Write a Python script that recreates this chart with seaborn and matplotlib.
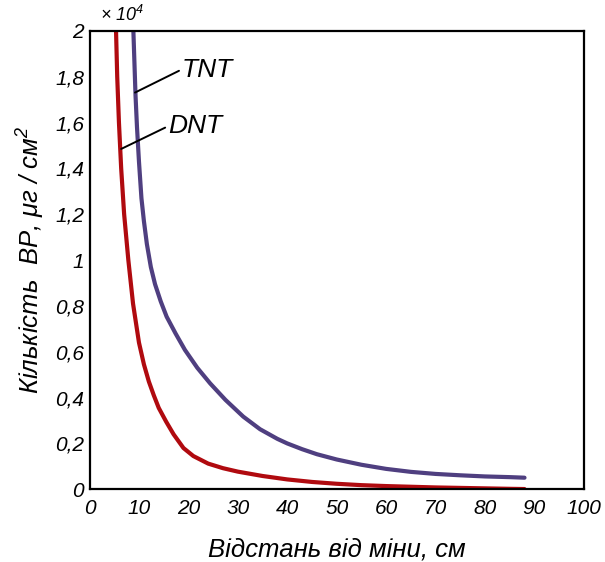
import pandas as pd
import matplotlib.pyplot as plt
import seaborn as sns
from matplotlib.ticker import FuncFormatter

# values, y in units of 10^4 ug/cm^2
tnt_x = [8.87, 9.1, 9.3, 9.6, 10.0, 10.5, 11.0, 11.6, 12.4, 13.25, 14.4, 15.6, 17.4, 19.3,
         21.8, 24.4, 27.5, 31.1, 34.5, 38.0, 40.0, 43.0, 46.0, 50.0, 55.0, 60.0, 65.0, 70.0,
         75.0, 80.0, 85.0, 88.0]
tnt_y = [2.00, 1.85, 1.72, 1.58, 1.43, 1.27, 1.17, 1.07, 0.97, 0.895, 0.82, 0.753, 0.68, 0.608,
         0.53, 0.462, 0.39, 0.317, 0.262, 0.220, 0.200, 0.175, 0.153, 0.130, 0.107, 0.089, 0.076, 0.067,
         0.061, 0.056, 0.053, 0.0505]

dnt_x = [5.36, 5.6, 5.95, 6.4, 7.0, 7.85, 8.8, 10.0, 11.0, 12.0, 13.0, 14.0, 15.5, 17.0,
         19.0, 21.0, 24.0, 27.0, 30.0, 35.0, 40.0, 45.0, 50.0, 55.0, 60.0, 65.0, 70.0, 75.0,
         80.0, 85.0, 88.0]
dnt_y = [2.00, 1.80, 1.60, 1.40, 1.20, 1.00, 0.81, 0.64, 0.545, 0.47, 0.41, 0.355, 0.295, 0.24,
         0.18, 0.145, 0.112, 0.092, 0.077, 0.058, 0.043, 0.032, 0.024, 0.018, 0.014, 0.011, 0.008, 0.006,
         0.004, 0.002, 0.001]

x_ticks = list(range(0, 101, 10))
y_ticks = [0, 0.2, 0.4, 0.6, 0.8, 1.0, 1.2, 1.4, 1.6, 1.8, 2.0]

sns.set_style("white")
plt.rcParams['font.family'] = ['Liberation Sans', 'DejaVu Sans']
plt.rcParams['font.style'] = 'italic'
plt.rcParams['mathtext.fontset'] = 'custom'
plt.rcParams['mathtext.rm'] = 'Liberation Sans:italic'
plt.rcParams['mathtext.it'] = 'Liberation Sans:italic'
plt.rcParams['text.color'] = 'black'
plt.rcParams['axes.labelcolor'] = 'black'
plt.rcParams['xtick.color'] = 'black'
plt.rcParams['ytick.color'] = 'black'

df = pd.concat([
    pd.DataFrame({'x': tnt_x, 'y': tnt_y, 'sub': 'TNT'}),
    pd.DataFrame({'x': dnt_x, 'y': dnt_y, 'sub': 'DNT'}),
])

fig = plt.figure(figsize=(6.05, 5.62), dpi=100)
ax = fig.add_axes([0.148, 0.1294, 0.817, 0.8156])

sns.lineplot(data=df, x='x', y='y', hue='sub', palette={'TNT': '#4f3f80', 'DNT': '#b00a0f'},
             estimator=None, sort=False, linewidth=3, legend=False, ax=ax)

# label leaders
ax.plot([9.2, 18.1], [1.731, 1.826], color='black', lw=1.4)
ax.text(18.6, 1.83, 'TNT', fontsize=19, va='center', ha='left')
ax.plot([6.4, 15.3], [1.485, 1.578], color='black', lw=1.4)
ax.text(16.0, 1.586, 'DNT', fontsize=19, va='center', ha='left')

ax.set_xlim(0, 100)
ax.set_ylim(0, 2)
ax.set_xticks(x_ticks)
ax.set_yticks(y_ticks)
ax.yaxis.set_major_formatter(FuncFormatter(lambda v, p: f'{v:g}'.replace('.', ',')))
ax.tick_params(direction='in', length=5, width=1, labelsize=15, color='black', pad=4,
               top=False, right=False)
ax.tick_params(axis='x', pad=7)
for s in ax.spines.values():
    s.set_color('black')
    s.set_linewidth(1.6)

ax.set_xlabel('Відстань від міни, см', fontsize=18.5, labelpad=14)
ax.set_ylabel('Кількість  ВР, μг / см$^2$', fontsize=18.5, labelpad=6)
fig.text(0.165, 0.973, '× $10^4$', fontsize=13, va='center', ha='left')

fig.savefig('out.png', dpi=100)
